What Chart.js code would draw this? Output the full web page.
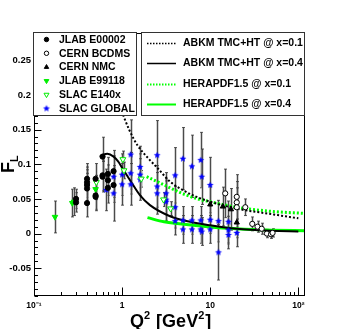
<!DOCTYPE html>
<html>
<head>
<meta charset="utf-8">
<script src="https://cdn.jsdelivr.net/npm/chart.js@4.4.1/dist/chart.umd.min.js"></script>
<style>
  html, body { margin: 0; padding: 0; background: #fff; }
  #wrap { width: 339px; height: 329px; }
</style>
</head>
<body>
<div id="wrap"><canvas id="flChart" width="339" height="329"></canvas></div>
<script>
// axis ticks
const xTickValues = [0.1, 1, 10, 100];
const xTickLabels = ['10\u207B\u00B9', '1', '10', '10\u00B2'];
const yTickValues = [-0.05, 0, 0.05, 0.1, 0.15, 0.2, 0.25];
const yTickLabels = ['-0.05', '0', '0.05', '0.1', '0.15', '0.2', '0.25'];

// JLAB E00002 (black full circles)
const jlabE00002Q2  = [0.30, 0.30, 0.40, 0.40, 0.40, 0.40, 0.40, 0.50, 0.50, 0.50, 0.60, 0.60, 0.60, 0.69, 0.69, 0.69, 0.80, 0.80];
const jlabE00002FL  = [0.050, 0.045, 0.079, 0.074, 0.070, 0.065, 0.044, 0.079, 0.055, 0.053, 0.111, 0.084, 0.082, 0.086, 0.077, 0.066, 0.090, 0.070];
const jlabE00002Err = [0.014, 0.014, 0.022, 0.022, 0.022, 0.022, 0.020, 0.022, 0.020, 0.020, 0.028, 0.022, 0.022, 0.024, 0.022, 0.022, 0.030, 0.025];

// CERN BCDMS (open circles)
const bcdmsQ2  = [14.8, 20, 20, 20, 25, 30, 34.4, 38.4, 44, 49, 51];
const bcdmsFL  = [0.058, 0.053, 0.045, 0.038, 0.038, 0.014, 0.010, 0.007, 0.000, -0.001, 0.001];
const bcdmsErr = [0.035, 0.032, 0.030, 0.028, 0.012, 0.010, 0.008, 0.008, 0.006, 0.006, 0.006];

// CERN NMC (black full triangles)
const nmcQ2  = [10, 13.9, 17.2, 20];
const nmcFL  = [0.042, 0.039, 0.035, 0.016];
const nmcErr = [0.025, 0.028, 0.030, 0.022];

// JLAB E99118 (green full down triangles)
const jlabE99118Q2  = [0.173, 0.272, 0.285, 0.50];
const jlabE99118FL  = [0.024, 0.044, 0.046, 0.064];
const jlabE99118Err = [0.023, 0.020, 0.020, 0.015];

// SLAC E140x (green open down triangles)
const e140xQ2  = [0.51, 1.02, 1.05, 1.65, 2.95, 3.55];
const e140xFL  = [0.074, 0.107, 0.091, 0.079, 0.049, 0.036];
const e140xErr = [0.010, 0.012, 0.012, 0.012, 0.010, 0.010];

// SLAC GLOBAL (blue stars)
const slacQ2  = [0.66, 0.80, 0.80, 1.0, 1.0, 1.25, 1.25, 1.25, 1.6, 1.6, 1.6, 2.5, 2.5, 2.5, 3.16, 3.16, 3.16,
                 4.0, 4.0, 4.0, 4.9, 4.9, 4.9, 6.2, 6.2, 6.2, 7.8, 7.8, 7.8, 8.0, 8.0, 10, 10, 10,
                 12.4, 12.4, 16.1, 16.1, 16.1, 20];
const slacFL  = [0.063, 0.082, 0.058, 0.085, 0.071, 0.114, 0.087, 0.071, 0.096, 0.085, 0.078, 0.113, 0.068, 0.058, 0.058, 0.049, 0.046,
                 0.084, 0.038, 0.018, 0.108, 0.019, 0.006, 0.097, 0.019, 0.006, 0.106, 0.019, 0.006, 0.082, 0.003, 0.070, 0.020, 0.006,
                 0.018, -0.027, 0.017, 0.005, -0.002, 0.001];
const slacErr = [0.030, 0.030, 0.040, 0.030, 0.030, 0.050, 0.030, 0.030, 0.030, 0.030, 0.030, 0.050, 0.030, 0.030, 0.030, 0.030, 0.030,
                 0.040, 0.030, 0.020, 0.045, 0.020, 0.020, 0.045, 0.020, 0.020, 0.040, 0.020, 0.020, 0.040, 0.020, 0.040, 0.020, 0.020,
                 0.030, 0.040, 0.030, 0.020, 0.020, 0.020];

// theory curves
const abkm01Q2 = [0.95, 1.2, 1.5, 2.0, 2.5, 3.5, 5, 7, 10, 20, 50, 100];
const abkm01FL = [0.182, 0.150, 0.127, 0.108, 0.095, 0.075, 0.062, 0.053, 0.046, 0.036, 0.028, 0.022];
const abkm04Q2 = [0.56, 0.62, 0.68, 0.8, 0.9, 1.0, 1.23, 1.6, 2.07, 3.5, 5.9, 10, 20, 50, 100];
const abkm04FL = [0.111, 0.114, 0.115, 0.111, 0.104, 0.095, 0.077, 0.055, 0.041, 0.025, 0.017, 0.012, 0.007, 0.004, 0.003];
const hera01Q2 = [1.9, 2.5, 3.5, 5, 7.7, 10, 20, 50, 120];
const hera01FL = [0.082, 0.075, 0.066, 0.057, 0.049, 0.046, 0.038, 0.032, 0.029];
const hera04Q2 = [1.94, 3, 4.2, 10, 20, 50, 120];
const hera04FL = [0.023, 0.017, 0.0144, 0.0095, 0.007, 0.005, 0.004];

function toPts(xs, ys) {
    return xs.map((x, i) => ({ x: x, y: ys[i] }));
}

// filled five point star used as marker
function makeStar(color, r) {
    const c = document.createElement('canvas');
    const s = Math.ceil(r * 2 + 2);
    c.width = s;
    c.height = s;
    const g = c.getContext('2d');
    g.fillStyle = color;
    g.beginPath();
    for (let i = 0; i < 10; i++) {
        const rad = i % 2 === 0 ? r : r * 0.45;
        const a = -Math.PI / 2 + i * Math.PI / 5;
        g.lineTo(s / 2 + rad * Math.cos(a), s / 2 + rad * Math.sin(a));
    }
    g.closePath();
    g.fill();
    return c;
}
const blueStar = makeStar('#0000ff', 3.6);

const FONT = '"Liberation Sans", Arial, Helvetica, sans-serif';

function pointSet(label, xs, ys, errs, style, rot, radius, fill, border) {
    return {
        label: label,
        data: toPts(xs, ys),
        errors: errs,
        showLine: false,
        pointStyle: style,
        pointRotation: rot,
        pointRadius: radius,
        pointHoverRadius: radius,
        pointBackgroundColor: fill,
        pointBorderColor: border,
        pointBorderWidth: 1,
        backgroundColor: fill,
        borderColor: border
    };
}

function curveSet(label, xs, ys, color, width, dash) {
    return {
        label: label,
        data: toPts(xs, ys),
        showLine: true,
        pointRadius: 0,
        pointHoverRadius: 0,
        borderColor: color,
        borderWidth: width,
        borderDash: dash,
        cubicInterpolationMode: 'monotone',
        fill: false,
        isCurve: true
    };
}

const datasets = [
    pointSet('JLAB E00002', jlabE00002Q2, jlabE00002FL, jlabE00002Err, 'circle', 0, 2.6, '#000', '#000'),
    pointSet('CERN BCDMS', bcdmsQ2, bcdmsFL, bcdmsErr, 'circle', 0, 2.6, '#fff', '#000'),
    pointSet('CERN NMC', nmcQ2, nmcFL, nmcErr, 'triangle', 0, 3, '#000', '#000'),
    pointSet('JLAB E99118', jlabE99118Q2, jlabE99118FL, jlabE99118Err, 'triangle', 180, 3.2, '#00ee00', '#00ee00'),
    pointSet('SLAC E140x', e140xQ2, e140xFL, e140xErr, 'triangle', 180, 3.4, '#fff', '#00ee00'),
    pointSet('SLAC GLOBAL', slacQ2, slacFL, slacErr, blueStar, 0, 3.6, '#0000ff', '#0000ff'),
    curveSet('ABKM TMC+HT @ x=0.1', abkm01Q2, abkm01FL, '#000', 2, [2, 2]),
    curveSet('ABKM TMC+HT @ x=0.4', abkm04Q2, abkm04FL, '#000', 2, []),
    curveSet('HERAPDF1.5 @ x=0.1', hera01Q2, hera01FL, '#00ff00', 3, [2, 2]),
    curveSet('HERAPDF1.5 @ x=0.4', hera04Q2, hera04FL, '#00ff00', 3, [])
];

// vertical error bars, drawn under the markers
const errorBarPlugin = {
    id: 'errorBars',
    beforeDatasetsDraw(chart) {
        const { ctx, chartArea, scales: { x, y } } = chart;
        ctx.save();
        ctx.beginPath();
        ctx.rect(chartArea.left, chartArea.top, chartArea.right - chartArea.left, chartArea.bottom - chartArea.top);
        ctx.clip();
        chart.data.datasets.forEach(ds => {
            if (!ds.errors) return;
            ds.data.forEach((p, i) => {
                const e = ds.errors[i];
                const px = Math.round(x.getPixelForValue(p.x)) + 0.5;
                const yTop = y.getPixelForValue(p.y + e);
                const yBot = y.getPixelForValue(p.y - e);
                ctx.strokeStyle = '#a8a8a8';
                ctx.lineWidth = 2;
                ctx.beginPath();
                ctx.moveTo(px, yTop);
                ctx.lineTo(px, yBot);
                ctx.stroke();
                ctx.strokeStyle = '#333';
                ctx.lineWidth = 0.8;
                ctx.beginPath();
                ctx.moveTo(px, yTop);
                ctx.lineTo(px, yBot);
                ctx.moveTo(px - 1.5, yTop);
                ctx.lineTo(px + 1.5, yTop);
                ctx.moveTo(px - 1.5, yBot);
                ctx.lineTo(px + 1.5, yBot);
                ctx.stroke();
            });
        });
        ctx.restore();
    }
};

// ROOT style frame with ticks pointing inwards
const framePlugin = {
    id: 'frame',
    afterDatasetsDraw(chart) {
        const { ctx, chartArea, scales: { x, y } } = chart;
        const L = Math.round(chartArea.left) + 0.5;
        const R = Math.round(chartArea.right) - 0.5;
        const T = Math.round(chartArea.top) + 0.5;
        const B = Math.round(chartArea.bottom) - 0.5;
        ctx.save();
        ctx.strokeStyle = '#000';
        ctx.lineWidth = 1;
        ctx.strokeRect(L, T, R - L, B - T);
        ctx.beginPath();
        for (let i = -9; i <= 29; i++) {
            const py = Math.round(y.getPixelForValue(i / 100)) + 0.5;
            const len = i % 5 === 0 ? 7 : 3.5;
            ctx.moveTo(L, py);
            ctx.lineTo(L + len, py);
        }
        for (let d = -1; d <= 2; d++) {
            for (let m = 1; m <= 9; m++) {
                const v = m * Math.pow(10, d);
                if (v < x.min || v > x.max) continue;
                const px = Math.round(x.getPixelForValue(v)) + 0.5;
                const len = m === 1 ? 8 : 3.5;
                ctx.moveTo(px, B);
                ctx.lineTo(px, B - len);
            }
        }
        ctx.stroke();
        ctx.restore();
    }
};

// the two legend boxes and the axis titles
const legendPlugin = {
    id: 'rootLegend',
    afterDraw(chart) {
        const ctx = chart.ctx;
        const sets = chart.data.datasets;
        const pts = sets.filter(ds => !ds.isCurve);
        const curves = sets.filter(ds => ds.isCurve);
        ctx.save();

        // data legend
        ctx.fillStyle = '#fff';
        ctx.fillRect(33, 32.5, 103, 83);
        ctx.strokeStyle = '#333';
        ctx.lineWidth = 1;
        ctx.strokeRect(33.5, 32.5, 103, 83);
        ctx.font = 'bold 10.5px ' + FONT;
        ctx.textBaseline = 'middle';
        ctx.textAlign = 'left';
        pts.forEach((ds, i) => {
            const yy = 39.5 + i * 13.8;
            ctx.fillStyle = ds.pointBackgroundColor;
            ctx.strokeStyle = ds.pointBorderColor;
            ctx.lineWidth = 1;
            if (Chart.helpers && Chart.helpers.drawPoint) {
                Chart.helpers.drawPoint(ctx, {
                    pointStyle: ds.pointStyle,
                    rotation: ds.pointRotation,
                    radius: ds.pointRadius * 0.85,
                    borderWidth: 1
                }, 46.5, yy);
            }
            ctx.fillStyle = '#000';
            ctx.fillText(ds.label, 59, yy + 0.5);
        });

        // theory legend
        ctx.fillStyle = '#fff';
        ctx.fillRect(142, 32.5, 163, 83);
        ctx.strokeStyle = '#333';
        ctx.lineWidth = 1;
        ctx.strokeRect(141.5, 32.5, 163, 83);
        curves.forEach((ds, i) => {
            const yy = Math.round(42.5 + i * 20.6) + 0.5;
            ctx.strokeStyle = ds.borderColor;
            ctx.lineWidth = ds.borderWidth === 3 ? 2 : 1.5;
            ctx.setLineDash(ds.borderDash.length ? [1.5, 1.5] : []);
            ctx.beginPath();
            ctx.moveTo(147, yy);
            ctx.lineTo(176, yy);
            ctx.stroke();
            ctx.setLineDash([]);
            ctx.fillStyle = '#000';
            ctx.fillText(ds.label, 183, yy);
        });

        // x title: Q^2 [GeV^2]
        ctx.fillStyle = '#000';
        ctx.textBaseline = 'alphabetic';
        const big = 'bold 18px ' + FONT;
        const sup = 'bold 11px ' + FONT;
        let cx = 130;
        const base = 326.5;
        const parts = [['Q', big, 0], ['2', sup, -8], [' [GeV', big, 0], ['2', sup, -8], [']', big, 0]];
        parts.forEach(p => {
            ctx.font = p[1];
            ctx.fillText(p[0], cx, base + p[2]);
            cx += ctx.measureText(p[0]).width + (p[1] === sup ? 1 : 0);
        });

        // y title: F_L
        ctx.translate(14, 173);
        ctx.rotate(-Math.PI / 2);
        ctx.font = big;
        ctx.fillText('F', 0, 0);
        const fw = ctx.measureText('F').width;
        ctx.font = sup;
        ctx.fillText('L', fw, 4);
        ctx.restore();
    }
};

const chart = new Chart(document.getElementById('flChart'), {
    type: 'scatter',
    data: { datasets: datasets },
    options: {
        responsive: false,
        animation: false,
        layout: { padding: { top: 32.5, right: 34, left: 0, bottom: 0 } },
        plugins: {
            legend: { display: false },
            tooltip: { enabled: false }
        },
        scales: {
            x: {
                type: 'logarithmic',
                min: 0.1,
                max: 119,
                grid: { display: false, drawTicks: false },
                border: { display: false },
                afterBuildTicks: scale => {
                    scale.ticks = xTickValues.map(v => ({ value: v }));
                },
                afterFit: scale => { scale.height = 33; },
                ticks: {
                    autoSkip: false,
                    maxRotation: 0,
                    padding: 5,
                    color: '#000',
                    font: { family: FONT, size: 8.5, weight: 'bold' },
                    callback: (v, i) => xTickLabels[i]
                }
            },
            y: {
                type: 'linear',
                min: -0.09,
                max: 0.29,
                grid: { display: false, drawTicks: false },
                border: { display: false },
                afterBuildTicks: scale => {
                    scale.ticks = yTickValues.map(v => ({ value: v }));
                },
                afterFit: scale => { scale.width = 34; },
                ticks: {
                    padding: 3,
                    color: '#000',
                    font: { family: FONT, size: 9.5, weight: 'bold' },
                    callback: (v, i) => yTickLabels[i]
                }
            }
        }
    },
    plugins: [errorBarPlugin, framePlugin, legendPlugin]
});
</script>
</body>
</html>
